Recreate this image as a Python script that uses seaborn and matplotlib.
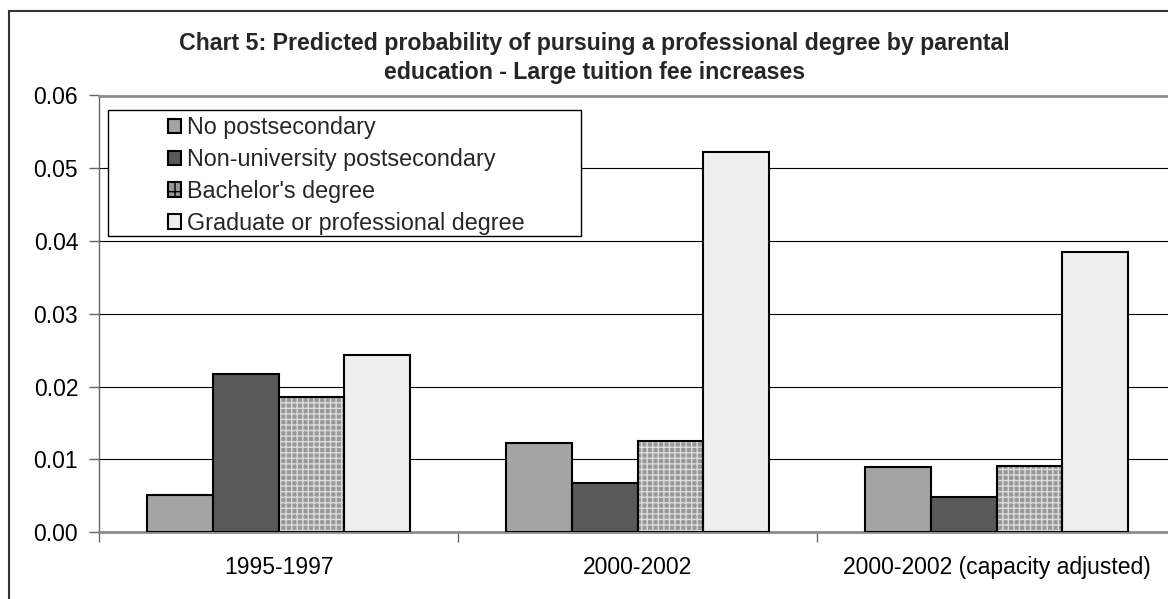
import numpy as np
import pandas as pd
import matplotlib
matplotlib.use("Agg")
import matplotlib.pyplot as plt
import seaborn as sns
from matplotlib.patches import Rectangle, Patch
from matplotlib.ticker import FixedLocator, FormatStrFormatter

# ---------------- data ----------------
periods = ["1995-1997", "2000-2002", "2000-2002 (capacity adjusted)"]
education = ["No postsecondary", "Non-university postsecondary",
             "Bachelor's degree", "Graduate or professional degree"]
no_postsecondary = [0.0051, 0.0122, 0.0090]
non_university = [0.0217, 0.0067, 0.0048]
bachelors = [0.0186, 0.0125, 0.0091]
graduate = [0.0243, 0.0523, 0.0385]
y_ticks = [0.00, 0.01, 0.02, 0.03, 0.04, 0.05, 0.06]
title = ("Chart 5: Predicted probability of pursuing a professional degree by parental\n"
         "education - Large tuition fee increases")

colors = ["#a4a4a4", "#595959", "#989898", "#eeeeee"]

rows = []
for lvl, vals in zip(education, [no_postsecondary, non_university, bachelors, graduate]):
    for p, v in zip(periods, vals):
        rows.append({"period": p, "education": lvl, "prob": v})
df = pd.DataFrame(rows)

# ---------------- style ----------------
sns.set_theme(style="white")
plt.rcParams["font.family"] = ["Liberation Sans", "DejaVu Sans"]
plt.rcParams["hatch.linewidth"] = 1.0

W, H = 1168, 599
fig = plt.figure(figsize=(W / 100, H / 100), dpi=100)
fig.patch.set_facecolor("white")
ax = fig.add_axes([99 / W, 67 / H, 1077 / W, 436.5 / H])

sns.barplot(data=df, x="period", y="prob", hue="education",
            order=periods, hue_order=education, palette=colors,
            width=0.73, gap=0, saturation=1, errorbar=None,
            edgecolor="black", linewidth=1.5, legend=False, ax=ax, zorder=3)

# textured bachelor's bars
for bar in ax.containers[2]:
    bar.set_hatch("+++")
    bar.set_edgecolor("#dcdcdc")
    bar.set_linewidth(0)
    ax.add_patch(Rectangle(bar.get_xy(), bar.get_width(), bar.get_height(),
                           fill=False, edgecolor="black", linewidth=1.5, zorder=4))

ax.set_xlim(-0.5, 2.5)
ax.set_ylim(0, 0.06)
ax.yaxis.set_major_locator(FixedLocator(y_ticks))
ax.yaxis.set_major_formatter(FormatStrFormatter("%.2f"))
ax.yaxis.grid(True, color="black", linewidth=0.8)
ax.set_axisbelow(True)
ax.set_xlabel("")
ax.set_ylabel("")

ax.xaxis.set_minor_locator(FixedLocator([-0.5, 0.5, 1.5, 2.5]))
ax.tick_params(axis="x", which="major", length=0, pad=17, labelsize=16.5, colors="black")
ax.tick_params(axis="x", which="minor", length=7, width=1, color="#666666", direction="out", bottom=True)
ax.tick_params(axis="y", which="major", length=7, width=1, color="#666666", direction="out",
               left=True, pad=8, labelsize=16.5, labelcolor="black")

for side in ["top", "bottom", "right"]:
    ax.spines[side].set_color("#8c8c8c")
    ax.spines[side].set_linewidth(2)
ax.spines["left"].set_color("#666666")
ax.spines["left"].set_linewidth(1)

# legend box and entries
ax.add_patch(Rectangle((0.0079, 0.6788), 0.4397, 0.288, transform=ax.transAxes,
                       facecolor="white", edgecolor="black", linewidth=1, zorder=5))
handles = []
for i, (lvl, c) in enumerate(zip(education, colors)):
    if i == 2:
        handles.append(Patch(facecolor=c, edgecolor="black", linewidth=1.5, hatch="+"))
    else:
        handles.append(Patch(facecolor=c, edgecolor="black", linewidth=1.5))
leg = ax.legend(handles, education, loc="upper left", bbox_to_anchor=(0.064, 0.953),
                frameon=False, borderpad=0, borderaxespad=0, fontsize=16.8,
                handlelength=0.58, handleheight=0.58, handletextpad=0.22,
                labelspacing=0.385)
leg.set_zorder(6)

# title
fig.text(0.509, 1 - 58 / H, title, ha="center", va="center", fontsize=16.7,
         fontweight="bold", linespacing=1.3)

# outer chart border
fig.add_artist(Rectangle((9 / W, -0.05), 1.2, 1 - 10.7 / H + 0.05, transform=fig.transFigure,
                         fill=False, edgecolor="#333333", linewidth=1.5))

fig.savefig("out.png", dpi=100)
